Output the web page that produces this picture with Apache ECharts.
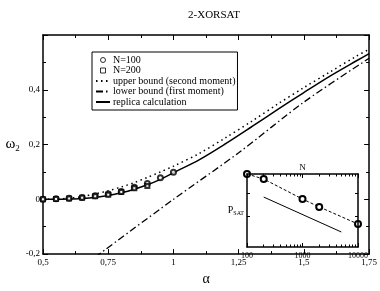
<!DOCTYPE html>
<html>
<head>
<meta charset="utf-8">
<script src="https://cdn.jsdelivr.net/npm/echarts@6/dist/echarts.min.js"></script>
<style>
html,body{margin:0;padding:0;background:#fff;}
#chart{width:380px;height:291px;}
</style>
</head>
<body>
<div id="chart"></div>
<script>
// 模拟点 N=100 / N=200
var alphaN100 = [0.5, 0.55, 0.6, 0.65, 0.7, 0.75, 0.8, 0.85, 0.9, 0.95, 1.0];
var omegaN100 = [0, 0.002, 0.004, 0.007, 0.013, 0.019, 0.029, 0.044, 0.058, 0.079, 0.099];
var alphaN200 = [0.5, 0.55, 0.6, 0.65, 0.7, 0.75, 0.8, 0.85, 0.9];
var omegaN200 = [0, 0.001, 0.003, 0.006, 0.011, 0.017, 0.027, 0.040, 0.049];

// 曲线
var alphaCurve = [0.5, 0.55, 0.6, 0.65, 0.7, 0.75, 0.8, 0.85, 0.9, 0.95, 1.0, 1.1, 1.2, 1.3, 1.4, 1.5, 1.6, 1.7, 1.75];
var upperBound = [0, 0.001, 0.004, 0.010, 0.020, 0.031, 0.045, 0.061, 0.080, 0.100, 0.121, 0.168, 0.225, 0.285, 0.348, 0.408, 0.465, 0.522, 0.548];
var replica    = [0, 0, 0.001, 0.003, 0.007, 0.014, 0.024, 0.037, 0.053, 0.073, 0.097, 0.145, 0.203, 0.265, 0.328, 0.390, 0.450, 0.505, 0.532];
var alphaLower = [0.7, 1.0, 1.25, 1.5, 1.75];
var lowerBound = [-0.211, 0.0, 0.17, 0.355, 0.515];

// 小图 P_SAT(N)
var insetN = [100, 200, 1000, 2000, 10000];
var insetPsat = [0.6, 0.572, 0.473, 0.439, 0.373];
var insetFitN = [200, 5000];
var insetFit = [0.482, 0.346];
var insetMajorN = [100, 1000, 10000];
var insetMinorN = [200, 300, 400, 500, 600, 700, 800, 900, 2000, 3000, 4000, 5000, 6000, 7000, 8000, 9000];
var insetYTicks = [0.4, 0.5];

var legendNames = ['N=100', 'N=200', 'upper bound (second moment)', 'lower bound (first moment)', 'replica calculation'];

function pairs(xs, ys) {
    return xs.map(function (x, i) { return [x, ys[i]]; });
}
function comma(v) {
    return String(+v.toFixed(4)).replace('.', ',');
}

var serif = 'Liberation Serif';
var black = '#000';

var mainX = function (pos, showLabel) {
    return {
        type: 'value', gridIndex: 0, position: pos,
        min: 0.5, max: 1.75, interval: 0.25,
        axisLine: { show: true, onZero: false, lineStyle: { color: black, width: 1.5 } },
        axisTick: { show: true, inside: true, length: 5, lineStyle: { color: black } },
        minorTick: { show: true, splitNumber: 2, length: 3, lineStyle: { color: black } },
        splitLine: { show: false },
        axisLabel: { show: showLabel, formatter: comma, color: black, fontFamily: serif, fontSize: 9, margin: 4 },
        name: showLabel ? 'α' : '', nameLocation: 'middle', nameGap: 15,
        nameTextStyle: { color: black, fontFamily: serif, fontSize: 14 }
    };
};
var mainY = function (pos, showLabel) {
    return {
        type: 'value', gridIndex: 0, position: pos,
        min: -0.2, max: 0.6, interval: 0.2,
        axisLine: { show: true, onZero: false, lineStyle: { color: black, width: 1.5 } },
        axisTick: { show: true, inside: true, length: 5, lineStyle: { color: black } },
        minorTick: { show: true, splitNumber: 2, length: 3, lineStyle: { color: black } },
        splitLine: { show: false },
        axisLabel: {
            show: showLabel, color: black, fontFamily: serif, fontSize: 9, margin: 3,
            formatter: function (v) { return Math.abs(v - 0.6) < 1e-6 ? '' : comma(v); }
        },
        name: showLabel ? '{w|ω}{s|2}' : '', nameLocation: 'middle', nameGap: 21, nameRotate: 0,
        nameTextStyle: {
            color: black, fontFamily: serif,
            rich: {
                w: { fontSize: 15, fontFamily: serif, color: black },
                s: { fontSize: 9, fontFamily: serif, color: black, padding: [8, 0, 0, 0] }
            }
        }
    };
};
var insetX = function (pos, major) {
    return {
        type: 'log', logBase: 10, gridIndex: 1, position: pos,
        min: 100, max: 10000, z: 8,
        axisLine: { show: major, onZero: false, lineStyle: { color: black, width: 1.5 } },
        axisTick: { show: true, inside: true, length: major ? 4 : 2.5, customValues: major ? insetMajorN : insetMinorN, lineStyle: { color: black } },
        splitLine: { show: false },
        axisLabel: {
            show: major && pos === 'bottom', customValues: insetMajorN,
            formatter: function (v) { return String(Math.round(v)); },
            color: black, fontFamily: serif, fontSize: 8, margin: 5
        },
        name: (major && pos === 'top') ? 'N' : '', nameLocation: 'middle', nameGap: 2,
        nameTextStyle: { color: black, fontFamily: serif, fontSize: 9 }
    };
};
var insetY = function (pos) {
    return {
        type: 'log', logBase: 10, gridIndex: 1, position: pos,
        min: 0.3, max: 0.6, z: 8,
        axisLine: { show: true, onZero: false, lineStyle: { color: black, width: 1.5 } },
        axisTick: { show: true, inside: true, length: 3, customValues: insetYTicks, lineStyle: { color: black } },
        splitLine: { show: false },
        axisLabel: { show: false },
        name: pos === 'left' ? '{p|P}{s|SAT}' : '', nameLocation: 'middle', nameGap: 3, nameRotate: 0,
        nameTextStyle: {
            color: black, fontFamily: serif,
            rich: {
                p: { fontSize: 10, fontFamily: serif, color: black },
                s: { fontSize: 6, fontFamily: serif, color: black, padding: [5, 0, 0, 0] }
            }
        }
    };
};

var hollow = { color: '#fff', borderColor: black, borderWidth: 1 };
var noMark = { opacity: 0 };

var myChart = echarts.init(document.getElementById('chart'));

var option = {
    animation: false,
    backgroundColor: '#fff',
    title: {
        text: '2-XORSAT', left: 209, top: 5, textAlign: 'center',
        textStyle: { color: black, fontFamily: serif, fontSize: 11, fontWeight: 'normal' }
    },
    legend: {
        data: [
            { name: legendNames[0], icon: 'circle', itemStyle: hollow },
            { name: legendNames[1], icon: 'path://M0,0H10V10H0Z', itemStyle: hollow },
            { name: legendNames[2], itemStyle: noMark },
            { name: legendNames[3], itemStyle: noMark },
            { name: legendNames[4], itemStyle: noMark }
        ],
        orient: 'vertical', left: 92, top: 52,
        backgroundColor: '#fff', borderColor: black, borderWidth: 1,
        padding: [3, 2, 3, 3], itemGap: 0.5, itemWidth: 14, itemHeight: 5,
        symbolKeepAspect: true,
        selectedMode: false,
        textStyle: { color: black, fontFamily: serif, fontSize: 10, lineHeight: 10, padding: [0, 0, 0, -2] }
    },
    grid: [
        { left: 43, top: 35, width: 332, height: 233 },
        { left: 247, top: 174, width: 111, height: 73, show: true, backgroundColor: '#fff', borderWidth: 0 }
    ],
    xAxis: [mainX('bottom', true), mainX('top', false), insetX('bottom', true), insetX('bottom', false), insetX('top', true), insetX('top', false)],
    yAxis: [mainY('left', true), mainY('right', false), insetY('left'), insetY('right')],
    series: [
        {
            name: 'N=100', type: 'scatter', xAxisIndex: 0, yAxisIndex: 0,
            data: pairs(alphaN100, omegaN100),
            symbol: 'emptyCircle', symbolSize: 5, z: 4,
            itemStyle: { color: black, borderWidth: 1 }
        },
        {
            name: 'N=200', type: 'scatter', xAxisIndex: 0, yAxisIndex: 0,
            data: pairs(alphaN200, omegaN200),
            symbol: 'emptyRect', symbolSize: 4, z: 4,
            itemStyle: { color: black, borderWidth: 1 }
        },
        {
            name: 'upper bound (second moment)', type: 'line', xAxisIndex: 0, yAxisIndex: 0,
            data: pairs(alphaCurve, upperBound), smooth: 0.3, symbol: 'none',
            itemStyle: { color: black },
            lineStyle: { color: black, width: 1.5, type: [1.5, 3.5] }
        },
        {
            name: 'lower bound (first moment)', type: 'line', xAxisIndex: 0, yAxisIndex: 0,
            data: pairs(alphaLower, lowerBound), smooth: 0.3, symbol: 'none',
            itemStyle: { color: black },
            lineStyle: { color: black, width: 1.3, type: [7, 3, 1.5, 3] }
        },
        {
            name: 'replica calculation', type: 'line', xAxisIndex: 0, yAxisIndex: 0,
            data: pairs(alphaCurve, replica), smooth: 0.3, symbol: 'none',
            itemStyle: { color: black },
            lineStyle: { color: black, width: 1.5 }
        },
        {
            name: 'P_SAT', type: 'line', xAxisIndex: 2, yAxisIndex: 2, z: 6,
            data: pairs(insetN, insetPsat), symbol: 'emptyCircle', symbolSize: 6,
            itemStyle: { color: black, borderWidth: 0.8 },
            lineStyle: { color: black, width: 1, type: [3, 2] }
        },
        {
            name: 'fit', type: 'line', xAxisIndex: 2, yAxisIndex: 2, z: 6,
            data: pairs(insetFitN, insetFit), symbol: 'none',
            lineStyle: { color: black, width: 1 }
        }
    ]
};

myChart.setOption(option);

window.addEventListener('resize', function () {
    myChart.resize();
});
</script>
</body>
</html>
